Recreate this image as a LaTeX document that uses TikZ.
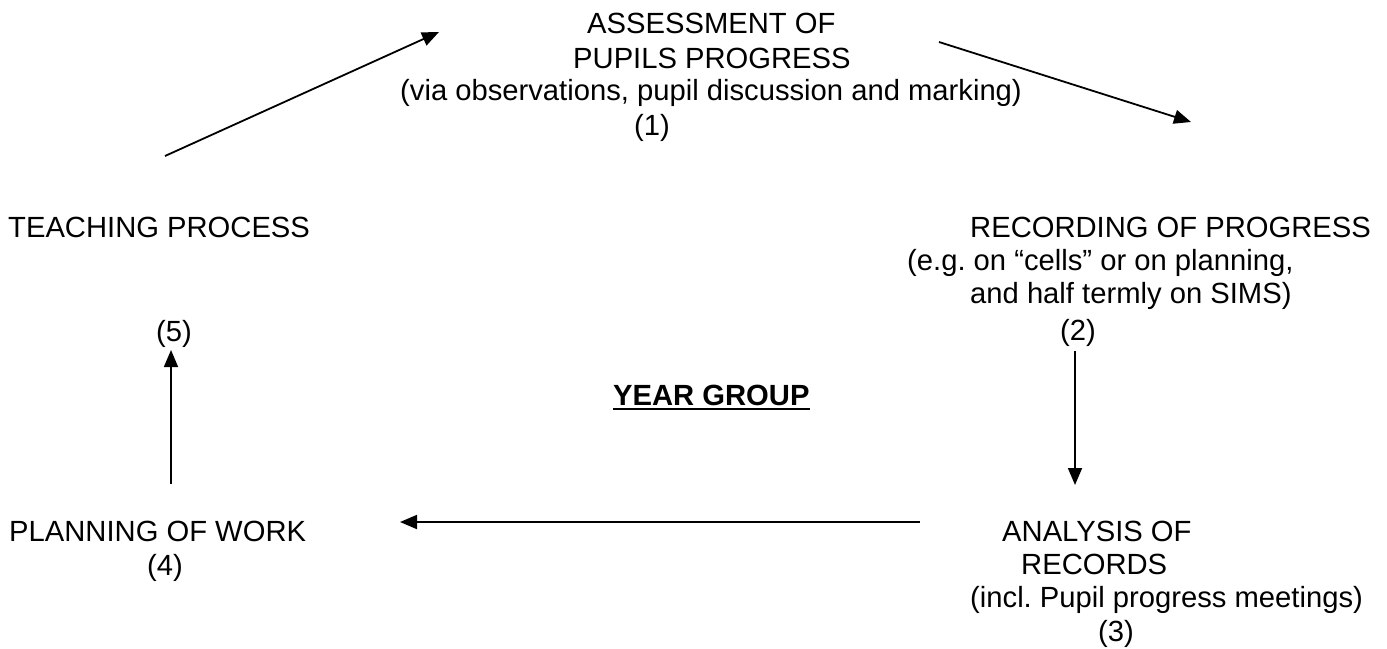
\documentclass[tikz,border=0pt]{standalone}
\usepackage{fontspec}
\setmainfont{Liberation Sans}
\usetikzlibrary{arrows.meta}
\frenchspacing
\begin{document}
\begin{tikzpicture}[x=1pt,y=-1pt,
  txt/.style={anchor=base west,inner sep=0pt,font=\fontsize{29.2}{33.6}\selectfont},
  flow/.style={line width=1.8pt,-{Triangle[length=17pt,width=14pt]}}]
\useasboundingbox (0,0) rectangle (1387,648);
% (1) assessment
\node[txt] (a1) at (587,33) {ASSESSMENT OF};
\node[txt] (a2) at (573,68) {PUPILS PROGRESS};
\node[txt] (a3) at (400,100) {(via observations, pupil discussion and marking)};
\node[txt] (a4) at (634,135) {(1)};
% (2) recording
\node[txt] (r1) at (970,237) {RECORDING OF PROGRESS};
\node[txt] (r2) at (907,270) {(e.g. on “cells” or on planning,};
\node[txt] (r3) at (970,303) {and half termly on SIMS)};
\node[txt] (r4) at (1060,340) {(2)};
% (3) analysis
\node[txt] (n1) at (1002,541) {ANALYSIS OF};
\node[txt] (n2) at (1021,574) {RECORDS};
\node[txt] (n3) at (970,607) {(incl. Pupil progress meetings)};
\node[txt] (n4) at (1098,641) {(3)};
% (4) planning
\node[txt] (p1) at (9,541) {PLANNING OF WORK};
\node[txt] (p2) at (147,575) {(4)};
% (5) teaching
\node[txt] (t1) at (8,237) {TEACHING PROCESS};
\node[txt] (t2) at (156,341) {(5)};
% centre
\node[txt,font=\fontsize{29.2}{33.6}\selectfont\bfseries] (yg) at (613,405) {YEAR GROUP};
\draw[line width=2.2pt] ([yshift=-4pt]yg.base west) -- ([yshift=-4pt]yg.base east);
% arrow end points
\coordinate (c1s) at (165,156);
\coordinate (c1e) at (439,32);
\coordinate (c2s) at (939,42);
\coordinate (c2e) at (1191,122);
\coordinate (c3s) at (1075,351);
\coordinate (c3e) at (1075,485);
\coordinate (c4s) at (920,522);
\coordinate (c4e) at (400,522);
\coordinate (c5s) at (171,484);
\coordinate (c5e) at (171,350);
\draw[flow] (c1s) -- (c1e);
\draw[flow] (c2s) -- (c2e);
\draw[flow] (c3s) -- (c3e);
\draw[flow] (c4s) -- (c4e);
\draw[flow] (c5s) -- (c5e);
\end{tikzpicture}
\end{document}
